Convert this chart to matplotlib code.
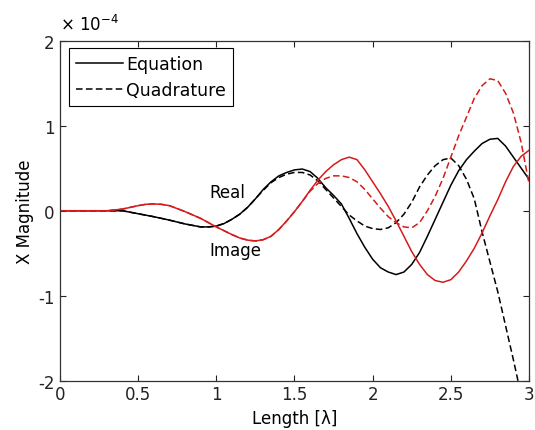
import matplotlib
matplotlib.use("Agg")
import matplotlib.pyplot as plt

plt.rcParams['font.family'] = ['DejaVu Sans']
plt.rcParams['axes.unicode_minus'] = False

# field magnitude along the line, in units of 1e-4
x_eq_real = [0, 0.3, 0.4, 0.5, 0.6, 0.7, 0.8, 0.9, 0.95, 1.0, 1.05, 1.1, 1.15, 1.2,
             1.25, 1.3, 1.35, 1.4, 1.45, 1.5, 1.55, 1.6, 1.65, 1.7, 1.75, 1.8, 1.85,
             1.9, 1.95, 2.0, 2.05, 2.1, 2.15, 2.2, 2.25, 2.3, 2.35, 2.4, 2.45, 2.5,
             2.55, 2.6, 2.65, 2.7, 2.75, 2.8, 2.85, 2.9, 2.95, 3.0]
eq_real = [0, 0, 0, -0.035, -0.07, -0.11, -0.155, -0.19, -0.19, -0.18, -0.15, -0.1,
           -0.04, 0.04, 0.14, 0.25, 0.34, 0.41, 0.45, 0.48, 0.49, 0.46, 0.38, 0.27,
           0.18, 0.08, -0.09, -0.27, -0.43, -0.57, -0.67, -0.72, -0.75, -0.72, -0.63,
           -0.49, -0.3, -0.1, 0.1, 0.3, 0.47, 0.6, 0.7, 0.79, 0.84, 0.85, 0.76, 0.63,
           0.5, 0.37]

x_quad_real = [0, 0.3, 0.4, 0.5, 0.6, 0.7, 0.8, 0.9, 0.95, 1.0, 1.05, 1.1, 1.15, 1.2,
               1.25, 1.3, 1.35, 1.4, 1.45, 1.5, 1.55, 1.6, 1.65, 1.7, 1.75, 1.8, 1.85,
               1.9, 1.95, 2.0, 2.05, 2.1, 2.15, 2.2, 2.25, 2.3, 2.35, 2.4, 2.45, 2.5,
               2.55, 2.6, 2.65, 2.7, 2.75, 2.8, 2.85, 2.9, 2.95]
quad_real = [0, 0, 0, -0.035, -0.07, -0.11, -0.155, -0.19, -0.19, -0.18, -0.15, -0.1,
             -0.04, 0.04, 0.14, 0.24, 0.33, 0.39, 0.43, 0.45, 0.45, 0.42, 0.35, 0.25,
             0.15, 0.05, -0.05, -0.12, -0.18, -0.21, -0.22, -0.2, -0.14, -0.04, 0.1,
             0.28, 0.42, 0.53, 0.6, 0.62, 0.53, 0.37, 0.14, -0.25, -0.6, -0.95, -1.35,
             -1.75, -2.17]

x_eq_imag = [0, 0.3, 0.4, 0.5, 0.55, 0.6, 0.65, 0.7, 0.8, 0.9, 1.0, 1.1, 1.15, 1.2,
             1.25, 1.3, 1.35, 1.4, 1.45, 1.5, 1.55, 1.6, 1.65, 1.7, 1.75, 1.8, 1.85,
             1.9, 1.95, 2.0, 2.05, 2.1, 2.15, 2.2, 2.25, 2.3, 2.35, 2.4, 2.45, 2.5,
             2.55, 2.6, 2.65, 2.7, 2.75, 2.8, 2.85, 2.9, 2.95, 3.0]
eq_imag = [0, 0, 0.02, 0.06, 0.076, 0.08, 0.075, 0.06, -0.01, -0.09, -0.19, -0.28,
           -0.32, -0.345, -0.355, -0.34, -0.3, -0.22, -0.12, -0.01, 0.11, 0.24, 0.36,
           0.46, 0.54, 0.6, 0.63, 0.6, 0.48, 0.34, 0.2, 0.05, -0.12, -0.3, -0.48, -0.63,
           -0.75, -0.82, -0.84, -0.81, -0.72, -0.59, -0.44, -0.26, -0.06, 0.13, 0.34,
           0.52, 0.64, 0.71]

x_quad_imag = [0, 0.3, 0.4, 0.5, 0.55, 0.6, 0.65, 0.7, 0.8, 0.9, 1.0, 1.1, 1.15, 1.2,
               1.25, 1.3, 1.35, 1.4, 1.45, 1.5, 1.55, 1.6, 1.65, 1.7, 1.75, 1.8, 1.85,
               1.9, 1.95, 2.0, 2.05, 2.1, 2.15, 2.2, 2.25, 2.3, 2.35, 2.4, 2.45, 2.5,
               2.55, 2.6, 2.65, 2.7, 2.75, 2.8, 2.85, 2.9, 2.95, 3.0]
quad_imag = [0, 0, 0.02, 0.06, 0.076, 0.08, 0.075, 0.06, -0.01, -0.09, -0.19, -0.28,
             -0.32, -0.345, -0.355, -0.34, -0.3, -0.22, -0.12, -0.01, 0.11, 0.23, 0.32,
             0.38, 0.41, 0.41, 0.39, 0.34, 0.25, 0.14, 0.03, -0.07, -0.14, -0.19, -0.2,
             -0.14, 0.0, 0.17, 0.38, 0.63, 0.88, 1.1, 1.32, 1.47, 1.55, 1.53, 1.38,
             1.15, 0.8, 0.32]

x_ticks = [0, 0.5, 1, 1.5, 2, 2.5, 3]
x_tick_labels = ['0', '0.5', '1', '1.5', '2', '2.5', '3']
y_ticks = [-2, -1, 0, 1, 2]

red = '#d41c1c'
dash = (4.3, 2.2)

fig = plt.figure(figsize=(5.35, 4.31), dpi=100)
ax = fig.add_axes([0.1121, 0.1137, 0.8767, 0.79])

ax.plot(x_eq_real, eq_real, color='black', lw=1.1, label='Equation')
ax.plot(x_quad_real, quad_real, color='black', lw=1.1, ls=(0, dash), label='Quadrature')
ax.plot(x_eq_imag, eq_imag, color=red, lw=1.1)
ax.plot(x_quad_imag, quad_imag, color=red, lw=1.1, ls=(0, dash))

ax.set_xlim(0, 3)
ax.set_ylim(-2, 2)
ax.set_xticks(x_ticks)
ax.set_xticklabels(x_tick_labels)
ax.set_yticks(y_ticks)
ax.tick_params(direction='in', length=4, width=0.8, top=True, right=True,
               labelsize=12, colors='#222222')
ax.tick_params(axis='x', pad=3)
ax.tick_params(axis='y', pad=4)
for s in ax.spines.values():
    s.set_linewidth(0.9)
    s.set_color('#333333')

ax.set_xlabel('Length [λ]', fontsize=12, labelpad=4)
ax.set_ylabel('X Magnitude', fontsize=12, labelpad=3)
ax.text(0.0, 1.02, '× 10$^{\\mathregular{-4}}$', transform=ax.transAxes,
        fontsize=12, ha='left', va='bottom')

ax.text(1.07, 0.22, 'Real', fontsize=12, ha='center', va='center')
ax.text(1.12, -0.46, 'Image', fontsize=12, ha='center', va='center')

leg = ax.legend(loc='upper left', bbox_to_anchor=(0.019, 0.978), borderaxespad=0,
                fontsize=12.5, handlelength=2.7, handletextpad=0.2, borderpad=0.4,
                labelspacing=0.45, fancybox=False, framealpha=1)
leg.get_frame().set_edgecolor('black')
leg.get_frame().set_linewidth(0.8)

fig.savefig('out.png', dpi=100)
